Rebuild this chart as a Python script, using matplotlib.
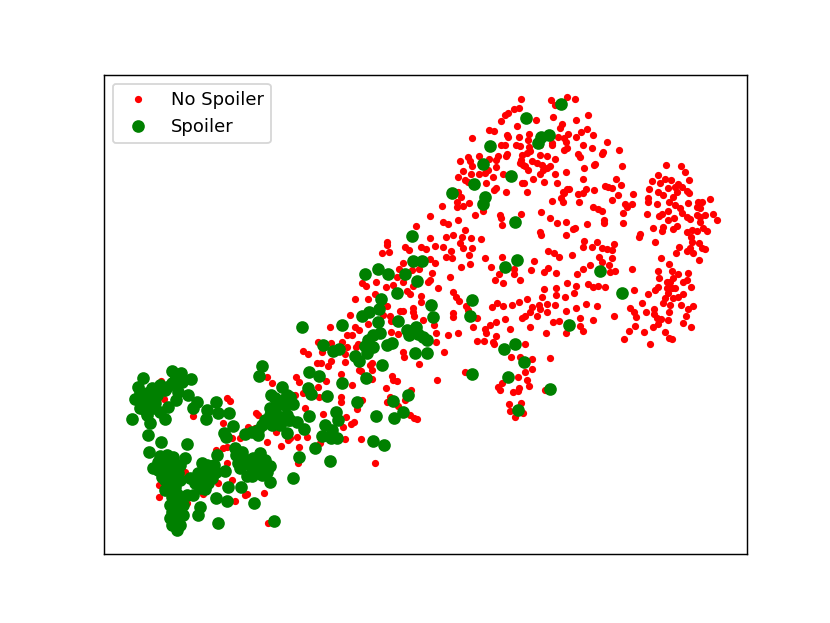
# -*- coding: utf-8 -*-
import matplotlib
matplotlib.use('Agg')
import matplotlib.pyplot as plt

# points, x then y (y grows downwards)
red_left = [(161,381),(164,399),(227,398),(230,401),(267,377),(272,383),(193,416),(256,413),(258,415),(223,423),
	(248,427),(255,428),(232,438),(240,438),(267,442),(276,432),(288,440),(281,446),(216,450),(223,448),
	(227,447),(227,463),(185,472),(159,485),(159,497),(218,483),(232,480),(245,495),(247,494),(264,493),
	(203,494),(235,501),(187,503),(268,523),(285,403)]

red_mid = [(416,226),(430,238),(387,242),(387,245),(382,253),(389,252),(405,247),(409,250),(421,247),(426,249),
	(403,263),(399,269),(419,269),(412,270),(428,282),(397,277),(403,282),(413,286),(362,283),(366,286),
	(376,282),(386,287),(393,285),(407,291),(410,294),(375,294),(368,299),(355,299),(421,296),(421,302),
	(387,306),(400,311),(403,311),(413,308),(413,312),(414,316),(350,315),(383,315),(390,316),(391,321),
	(368,324),(423,320),(330,327),(355,327),(359,330),(391,332),(398,334),(347,335),(352,335),(342,342),
	(318,342),(331,343),(347,347),(356,347),(358,344),(303,351),(308,354),(322,352),(345,354),(403,352),
	(404,357),(345,362),(331,361),(328,366),(317,363),(321,363),(419,364),(370,365),(372,363),(372,370),
	(359,370),(361,371),(341,374),(296,377),(299,382),(392,376),(397,381),(393,380),(372,379),(326,381),
	(352,385),(318,387),(386,388),(411,390),(303,393),(295,395),(319,397),(341,397),(341,402),(390,397),
	(387,402),(405,400),(362,400),(305,408),(357,409),(323,414),(346,417),(354,422),(351,424),(343,427),
	(398,406),(410,415),(414,418),(417,419),(361,439),(345,439),(320,443),(307,437),(297,437),(299,447),
	(375,463),(298,463),(290,438)]

red_top = [(521,99),(551,100),(567,97),(575,99),(555,105),(514,109),(519,108),(508,113),(505,115),(501,121),
	(517,126),(536,120),(553,117),(576,120),(588,115),(562,124),(560,128),(587,129),(581,132),(576,137),
	(593,135),(489,130),(494,131),(472,138),(507,135),(508,137),(519,137),(529,134),(528,140),(558,137),
	(564,138),(568,134),(566,142),(552,143),(552,145),(501,145),(505,145),(516,145),(520,146),(529,147),
	(540,145),(583,145),(592,148),(607,142),(564,150),(567,148),(619,150),(603,152),(602,154),(578,154),
	(580,157),(507,154),(506,156),(530,151),(527,153),(522,155),(540,155),(547,156),(555,159),(521,160),
	(520,163),(525,166),(532,161),(537,163),(542,165),(550,166),(547,168),(543,170),(540,174),(533,179),
	(528,170),(523,165),(555,174),(566,172),(584,168),(595,164),(594,165),(622,166),(468,157),(460,161),
	(479,156),(470,161),(472,166),(498,156),(496,160),(496,167),(489,159),(488,170),(485,173),(479,174),
	(471,174),(463,171),(458,177),(465,180),(468,182),(493,177),(486,183),(503,174),(583,179),(544,182),
	(557,183),(522,183),(524,183),(616,179),(621,185),(605,186),(608,187),(612,188),(496,188),(494,190),
	(506,192),(527,192),(594,190),(586,189),(583,193),(578,194),(567,189),(569,189),(563,192),(564,193),
	(618,195),(633,194),(612,200),(458,192),(461,197),(552,201),(561,198),(563,202),(579,202),(457,202),
	(457,207),(463,206),(469,203),(442,206),(593,207),(598,209),(602,211),(625,204),(627,207),(632,204),
	(623,213),(541,212),(521,214),(500,215),(475,215),(483,211),(501,218),(502,225),(458,220),(443,222),
	(448,224),(550,218),(557,223),(566,222),(587,224),(604,220),(604,223),(623,223),(573,229),(575,228),
	(566,235),(540,232),(541,235),(465,230),(462,237),(471,238),(481,239),(453,235),(446,237),(430,216)]

red_right = [(666,165),(681,166),(685,172),(658,175),(665,179),(652,181),(660,183),(671,180),(689,180),(678,184),
	(675,187),(649,189),(658,192),(663,195),(668,188),(682,187),(687,191),(689,193),(677,192),(673,197),
	(669,202),(648,198),(648,202),(657,204),(675,205),(680,208),(688,203),(698,202),(702,202),(710,199),
	(697,207),(700,208),(697,215),(705,215),(700,217),(713,214),(717,220),(682,213),(687,217),(668,211),
	(662,214),(659,216),(647,214),(668,220),(674,218),(690,219),(700,222),(703,228),(707,231),(677,226),
	(673,229),(663,227),(662,231),(653,228),(640,234),(639,237),(655,242),(687,232),(692,230),(697,231),
	(691,237),(692,242),(699,243),(702,248),(705,249),(690,248),(687,251),(693,253),(679,247),(676,253),
	(699,260),(661,258),(669,264),(658,271),(672,271),(678,274),(659,278),(673,278),(670,282),(667,282),
	(688,273),(687,280),(683,282),(691,287),(675,288),(672,288),(667,288),(658,287),(655,290),(648,294),
	(634,290),(683,294),(678,297),(673,298),(668,293),(665,298),(663,303),(642,303),(630,308),(634,312),
	(636,317),(646,312),(654,309),(654,314),(657,318),(661,319),(668,320),(669,312),(670,305),(681,305),
	(693,306),(688,309),(686,316),(683,323),(691,327),(658,324),(653,327),(635,326),(629,331),(644,332),
	(665,332),(669,338),(672,339),(624,339),(650,344)]

red_centre = [(584,241),(583,247),(597,242),(592,247),(602,248),(607,249),(614,244),(612,250),(599,257),(602,262),
	(612,258),(609,265),(615,271),(610,272),(590,265),(583,269),(577,274),(572,255),(548,251),(554,253),
	(559,257),(534,261),(531,270),(548,268),(544,272),(556,273),(632,269),(567,283),(576,286),(588,284),
	(593,287),(598,286),(605,287),(544,289),(556,288),(556,295),(574,293),(565,297),(542,297),(527,299),
	(519,302),(512,305),(503,306),(497,303),(492,307),(547,304),(555,305),(539,305),(532,307),(530,312),
	(540,309),(547,312),(537,316),(525,316),(522,318),(505,319),(566,311),(576,308),(586,304),(597,306),
	(614,316),(580,318),(593,320),(559,321),(553,322),(530,327),(496,322),(490,325),(485,329),(486,333),
	(510,329),(580,326),(583,331),(566,333),(546,333),(496,336),(493,342),(494,344),(477,341),(484,341),
	(525,344),(511,357),(520,357),(532,359),(550,358),(532,369),(525,372),(518,377),(527,380),(529,386),
	(502,383),(498,387),(500,390),(519,388),(518,391),(513,392),(545,390),(509,404),(521,403),(510,411),
	(523,413),(515,417),(465,372),(437,380),(435,246),(443,247),(451,251),(446,257),(452,258),(460,243),
	(463,248),(472,248),(469,255),(485,258),(461,267),(470,264),(502,257),(491,267),(514,269),(514,274),
	(499,274),(495,280),(503,283),(520,280),(450,277),(438,288),(432,273),(430,280),(435,263),(453,292),
	(456,297),(459,301),(466,306),(468,310),(453,313),(453,317),(473,327),(477,318),(458,333),(448,335),
	(436,333),(434,325),(436,342),(444,352),(430,259)]

green_left = [(143,378),(172,371),(181,373),(191,379),(175,380),(167,387),(138,387),(152,388),(135,399),(143,397),
	(152,398),(140,408),(153,408),(147,415),(132,419),(150,423),(165,419),(168,407),(176,400),(178,392),
	(188,395),(197,402),(193,408),(207,410),(216,402),(206,419),(218,413),(229,413),(233,426),(224,433),
	(226,437),(148,435),(161,442),(187,444),(149,452),(167,455),(173,457),(185,458),(158,462),(153,468),
	(165,468),(175,468),(162,477),(172,477),(178,473),(165,490),(175,487),(172,497),(175,503),(187,495),
	(193,495),(190,478),(202,463),(207,465),(198,473),(207,475),(197,483),(208,483),(216,472),(225,471),
	(217,455),(228,487),(241,487),(216,498),(227,501),(254,503),(200,507),(198,515),(170,518),(183,515),
	(177,510),(177,517),(180,525),(177,530),(218,523),(274,521),(270,482),(247,476),(258,468),(270,466),
	(267,472),(253,458),(260,453),(248,460),(238,463),(235,448),(242,452),(245,434),(258,435),(265,420),
	(273,418),(270,408),(275,398),(271,395),(282,387),(287,395),(287,415),(282,417),(287,433),(262,366),
	(259,376)]

# the solid parts of the clusters, where single marks can't be told apart
green_dense = [(147,393),(148,403),(145,410),(155,403),(160,412),(160,385),(165,390),(172,383),(178,378),(182,382),
	(140,392),(157,395),(160,456),(167,462),(172,463),(158,470),(170,472),(180,465),(165,480),(175,480),
	(168,485),(180,480),(170,490),(177,494),(178,500),(170,505),(183,505),(180,500),(175,522),(172,512),
	(180,512),(172,525),(203,470),(210,470),(200,478),(205,482),(212,478),(195,483),(200,488),(205,489),
	(214,465),(236,455),(242,458),(245,462),(250,465),(255,470),(262,462),(265,460),(240,468),(252,476),
	(262,475),(262,425),(258,430),(270,415),(275,410),(278,403),(283,400),(272,425),(288,420),(285,405),
	(280,425),(252,432)]

green_mid = [(412,236),(413,261),(422,261),(365,274),(378,269),(388,274),(405,274),(417,281),(397,293),(381,299),
	(379,309),(369,312),(362,316),(431,305),(433,317),(378,322),(398,321),(342,325),(302,327),(416,327),
	(407,330),(409,335),(418,334),(423,337),(427,340),(380,333),(373,335),(368,340),(365,346),(373,347),
	(367,353),(387,345),(392,343),(323,345),(333,351),(339,349),(355,356),(359,361),(415,353),(427,353),
	(382,365),(366,378),(309,372),(319,376),(342,383),(308,388),(311,394),(327,396),(357,402),(393,401),
	(408,395),(376,416),(394,418),(403,412),(309,416),(336,412),(338,420),(325,425),(332,430),(322,436),
	(331,438),(337,438),(293,404),(290,397),(290,420),(297,422),(304,429),(315,448),(299,457),(330,461),
	(373,441),(384,445),(293,478)]

green_top = [(561,104),(526,118),(549,135),(541,137),(538,143),(490,146),(483,164),(511,176),(474,184),(452,193),
	(485,197),(483,204),(515,222),(517,260),(505,267),(600,271),(622,293),(472,300),(470,316),(569,325),
	(515,344),(504,349),(524,362),(472,374),(508,377),(550,389),(518,410)]

noSpoiler = red_left + red_mid + red_top + red_right + red_centre
spoiler = green_left + green_dense + green_mid + green_top

fig = plt.figure(figsize=(830/130, 623/130), dpi=130)
ax = fig.add_subplot(111)

xs, ys = zip(*noSpoiler)
ax.plot(xs, ys, 'r.', label='No Spoiler')
xs, ys = zip(*spoiler)
ax.plot(xs, ys, 'go', label='Spoiler')

ax.set_xlim(103.75, 747)
ax.set_ylim(554.5, 75)
ax.set_xticks([])
ax.set_yticks([])
ax.legend(loc='upper left')

fig.savefig('out.png', dpi=130)
